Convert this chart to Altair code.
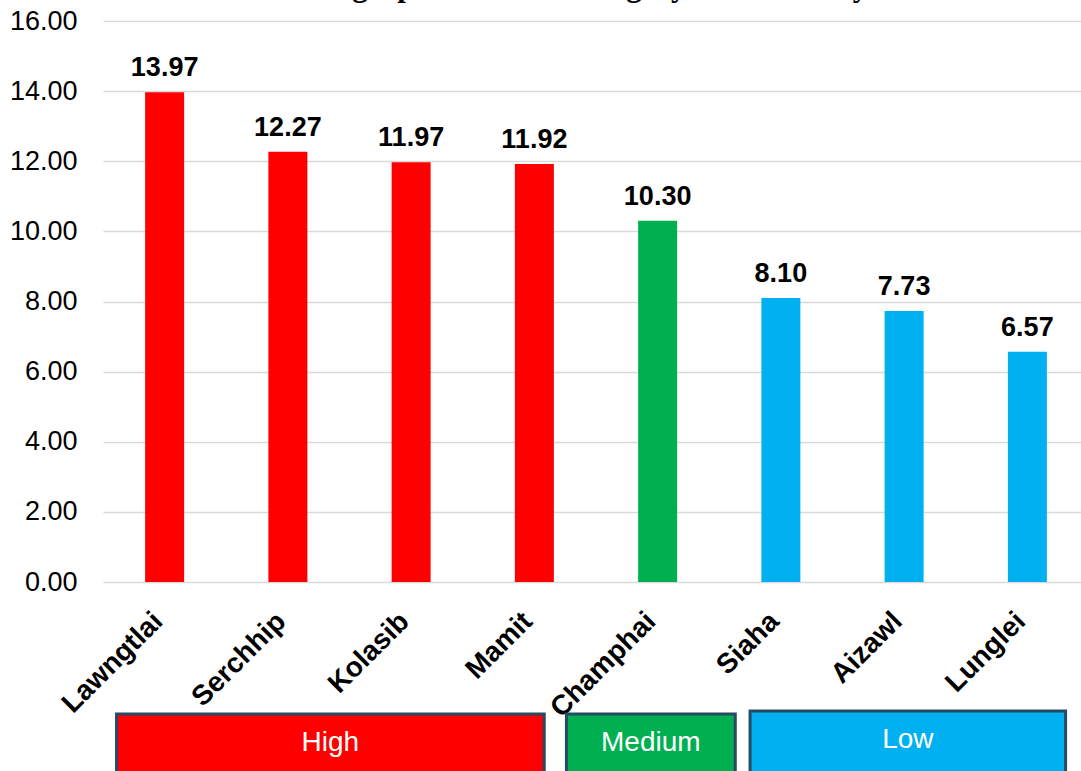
import altair as alt
import pandas as pd

# District scores and their vulnerability class
districts = ["Lawngtlai", "Serchhip", "Kolasib", "Mamit", "Champhai", "Siaha", "Aizawl", "Lunglei"]
scores = [13.97, 12.27, 11.97, 11.92, 10.30, 8.10, 7.73, 6.57]
classes = ["High", "High", "High", "High", "Medium", "Low", "Low", "Low"]

levels = ["High", "Medium", "Low"]
level_colors = ["#FF0000", "#00B050", "#00B0F0"]

title_text = "Geographical Land Category Vulnerability"

# Layout of the class boxes under the axis, in category-slot units
box_start = [0.11, 3.76, 5.25]
box_end = [3.58, 5.13, 7.81]
box_top = [693, 693, 690]
box_text_y = [722, 722, 719]

PLOT_W = 978
PLOT_H = 561
X_RANGE = [0, 986]
FONT = "Liberation Sans"

df = pd.DataFrame({"district": districts, "score": scores, "category": classes})
boxes = pd.DataFrame({
    "category": levels,
    "x0": box_start,
    "x1": box_end,
    "top": box_top,
    "ty": box_text_y,
})
boxes["bottom"] = 760
boxes["mid"] = (boxes["x0"] + boxes["x1"]) / 2

color_scale = alt.Scale(domain=levels, range=level_colors)
band = alt.Scale(type="band", range=X_RANGE, paddingInner=0, paddingOuter=0)
slots = alt.Scale(domain=[0, 8], range=X_RANGE, nice=False, zero=False)
yscale = alt.Scale(domain=[0, 16], nice=False)

bars = alt.Chart(df).mark_bar(size=39).encode(
    x=alt.X("district:N", sort=districts, scale=band, title=None,
            axis=alt.Axis(labelAngle=-45, labelAlign="right", labelBaseline="top",
                          labelFont=FONT, labelFontSize=28, labelFontWeight="bold",
                          labelColor="#000000", labelPadding=25, labelOffset=-16,
                          labelLimit=0, labelOverlap=False,
                          domain=False, ticks=False, grid=False)),
    y=alt.Y("score:Q", scale=yscale, title=None,
            axis=alt.Axis(values=list(range(0, 17, 2)), format=".2f",
                          labelFont=FONT, labelFontSize=27, labelColor="#000000",
                          labelPadding=26, domain=False, ticks=False,
                          grid=True, gridColor="#d9d9d9", gridWidth=1.5)),
    color=alt.Color("category:N", scale=color_scale, legend=None),
)

values = alt.Chart(df).mark_text(
    dy=-16, baseline="alphabetic", font=FONT, fontSize=27, fontWeight="bold", color="#000000"
).encode(
    x=alt.X("district:N", sort=districts, scale=band, axis=None),
    y=alt.Y("score:Q", scale=yscale),
    text=alt.Text("score:Q", format=".2f"),
)

class_boxes = alt.Chart(boxes).mark_rect(stroke="#244b62", strokeWidth=3).encode(
    x=alt.X("x0:Q", scale=slots, axis=None),
    x2="x1:Q",
    y=alt.Y("top:Q", scale=None),
    y2="bottom:Q",
    color=alt.Color("category:N", scale=color_scale, legend=None),
)

class_text = alt.Chart(boxes).mark_text(
    font=FONT, fontSize=28, color="#FFFFFF", baseline="middle"
).encode(
    x=alt.X("mid:Q", scale=slots, axis=None),
    y=alt.Y("ty:Q", scale=None),
    text="category:N",
)

title = alt.Chart(pd.DataFrame({"t": [title_text]})).mark_text(
    font="Liberation Serif", fontSize=31, fontWeight="bold", align="left",
    baseline="alphabetic", color="#000000"
).encode(
    x=alt.value(196),
    y=alt.value(-25),
    text="t:N",
)

chart = alt.layer(bars, values, class_boxes, class_text, title).resolve_scale(
    x="independent"
).properties(
    width=PLOT_W,
    height=PLOT_H,
    padding={"left": 103, "top": 21, "right": 0, "bottom": 189},
    autosize=alt.AutoSizeParams(type="none"),
    background="#FFFFFF",
).configure_view(stroke=None)

chart.save("out.html", embed_options={"renderer": "svg", "actions": False})
